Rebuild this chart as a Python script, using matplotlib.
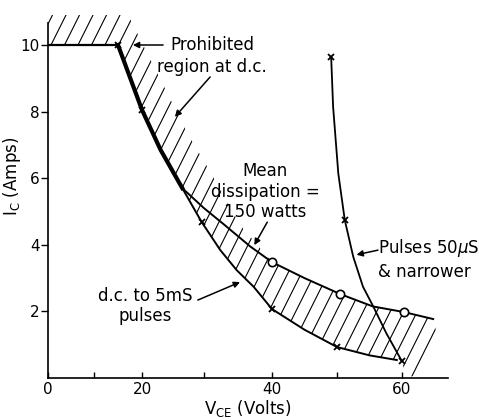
import numpy as np
import matplotlib
matplotlib.use('Agg')
import matplotlib.pyplot as plt
from matplotlib.patches import Polygon
from matplotlib.collections import LineCollection
from matplotlib.transforms import IdentityTransform

plt.rcParams['font.family'] = ['DejaVu Sans']

# d.c. limit (flat 10 A then steep descent)
dc_v = [0, 15, 20, 23, 26.5]
dc_i = [10, 10, 8.05, 6.85, 5.7]

# mean dissipation = 150 W curve
mean_v = [26.5, 30, 33, 36.8, 40, 45, 50.5, 55.5, 60.3, 64.8]
mean_i = [5.7, 5.1, 4.6, 3.95, 3.48, 3.0, 2.52, 2.15, 1.98, 1.77]

# d.c. to 5 mS pulses curve
low_v = [26.5, 29.6, 32.4, 34.8, 37.3, 40, 45, 50, 55, 59.2]
low_i = [5.7, 4.69, 3.84, 3.24, 2.74, 2.07, 1.45, 0.93, 0.68, 0.54]

# pulses 50 uS & narrower
pulse_v = [49.1, 49.4, 50.2, 51.2, 52.5, 54.0, 55.6, 57.6, 60]
pulse_i = [9.65, 8.15, 6.14, 4.74, 3.64, 2.74, 2.14, 1.34, 0.5]

# measured points
cross_v = [15, 20, 29.6, 40, 50, 60, 49.1, 51.2]
cross_i = [10, 8.05, 4.69, 2.07, 0.93, 0.5, 9.65, 4.74]
circle_v = [40, 50.5, 60.3]
circle_i = [3.48, 2.52, 1.98]

# outer edge of the prohibited (hatched) band
edge_v = [35.3, 31.6, 27.3, 17.1, 0]
edge_i = [4.6, 5.95, 7.36, 10.9, 10.9]
tail_v = [60, 60.6, 63, 65.5]
tail_i = [0.5, 0.05, 0.05, 1.2]

x_ticks = [0, 10, 20, 30, 40, 50, 60]
x_labels = ['0', '', '20', '', '40', '', '60']
y_ticks = [2, 4, 6, 8, 10]

# the scanned axis is not evenly spaced
XV = [-10, 0, 10, 20, 30, 40, 50, 60, 80]
XP = [2, 48, 94, 142, 204, 272, 337, 402, 532]

def fwd(x):
    return np.interp(x, XV, XP)

def inv(p):
    return np.interp(p, XP, XV)

fig = plt.figure(figsize=(4.79, 4.2), dpi=100)
ax = fig.add_axes([48 / 479, 42 / 420, 399.5 / 479, 366.3 / 420])
ax.set_xscale('function', functions=(fwd, inv))
ax.set_xlim(0, 67)
ax.set_ylim(0, 11)

# hatched region
poly_pts = (list(zip(dc_v, dc_i)) + list(zip(low_v[1:], low_i[1:]))
            + list(zip(tail_v, tail_i)) + [(mean_v[-1], mean_i[-1])]
            + list(zip(mean_v[-2:3:-1], mean_i[-2:3:-1]))
            + list(zip(edge_v, edge_i)))
region = Polygon(poly_pts, closed=True, facecolor='none', edgecolor='none',
                 transform=ax.transData)
ax.add_patch(region)
segs = [[(x0, 0), (x0 + 210, 420)] for x0 in np.arange(-420, 900, 13.5)]
hatch = LineCollection(segs, colors='black', linewidths=0.8,
                       transform=IdentityTransform())
hatch.set_clip_path(region)
ax.add_collection(hatch)

ax.plot(dc_v[:2], dc_i[:2], color='black', lw=1.6)
ax.plot(dc_v[1:], dc_i[1:], color='black', lw=3)
ax.plot(mean_v, mean_i, color='black', lw=1.4)
ax.plot(low_v, low_i, color='black', lw=1.4)
ax.plot(pulse_v, pulse_i, color='black', lw=1.3)
ax.plot(cross_v, cross_i, 'x', color='black', ms=5, mew=1.3)
ax.plot(circle_v, circle_i, 'o', mfc='white', mec='black', ms=6, mew=1.2)

fs = 12
arrow = dict(arrowstyle='-|>', color='black', lw=1.1, mutation_scale=9,
             shrinkA=0, shrinkB=0)
ax.text(31.2, 9.67, 'Prohibited\nregion at d.c.', ha='center', va='center',
        fontsize=fs, linespacing=1.35)
ax.annotate('', xy=(18.1, 10.0), xytext=(23.4, 10.0), arrowprops=arrow)
ax.annotate('', xy=(25.3, 7.84), xytext=(30.9, 9.04), arrowprops=arrow)

ax.text(39.0, 5.6, 'Mean\ndissipation =\n150 watts', ha='center', va='center',
        fontsize=fs, linespacing=1.15)
ax.annotate('', xy=(37.4, 3.99), xytext=(39.3, 4.68), arrowprops=arrow)

ax.text(56.3, 3.57, 'Pulses 50$\\mu$S\n& narrower', ha='left', va='center',
        fontsize=fs, linespacing=1.3)
ax.annotate('', xy=(53.0, 3.7), xytext=(56.3, 3.84), arrowprops=arrow)

ax.text(20.5, 2.16, 'd.c. to 5mS\npulses', ha='center', va='center',
        fontsize=fs, linespacing=1.2)
ax.annotate('', xy=(35.3, 2.88), xytext=(29.0, 2.34), arrowprops=arrow)

ax.spines['top'].set_visible(False)
ax.spines['right'].set_visible(False)
ax.spines['left'].set_bounds(0, 10.66)
ax.spines['left'].set_linewidth(1.2)
ax.spines['bottom'].set_linewidth(1.2)

ax.set_xticks(x_ticks)
ax.set_xticklabels(x_labels)
ax.set_yticks(y_ticks)
ax.tick_params(axis='x', direction='in', length=4, width=1, labelsize=11, pad=3)
ax.tick_params(axis='y', direction='out', length=5, width=1, labelsize=11, pad=1)
ax.minorticks_off()

ax.set_xlabel('V$_{\\mathregular{CE}}$ (Volts)', fontsize=fs, labelpad=0)
ax.set_ylabel('I$_{\\mathregular{C}}$ (Amps)', fontsize=fs)
ax.yaxis.set_label_coords(-0.062, 0.55)
ax.xaxis.set_label_coords(0.5, -0.055)
ax.xaxis.label.set_va('top')

fig.savefig('out.png', dpi=100, facecolor='white')
